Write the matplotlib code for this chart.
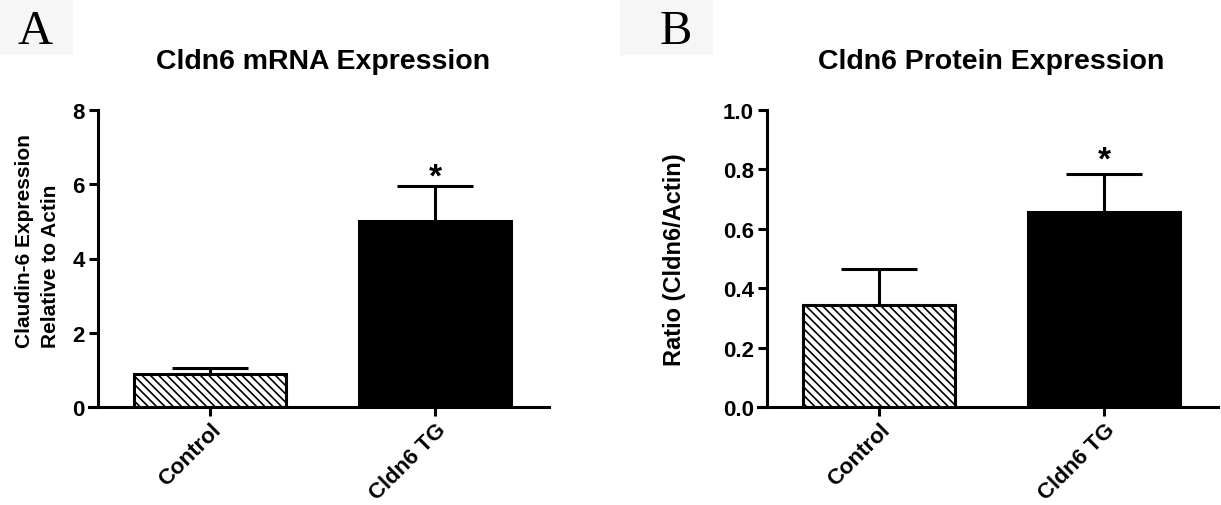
import numpy as np
import matplotlib
matplotlib.use('Agg')
import matplotlib.pyplot as plt
from matplotlib.patches import Rectangle

plt.rcParams['font.family'] = ['Liberation Sans', 'DejaVu Sans']
plt.rcParams['font.weight'] = 'bold'
plt.rcParams['axes.labelweight'] = 'bold'
plt.rcParams['hatch.linewidth'] = 1.2
plt.rcParams['hatch.color'] = 'black'

# data
groups = ['Control', 'Cldn6 TG']
mrna_mean = [0.89, 5.0]
mrna_sem = [0.17, 0.95]
mrna_star = 6.48          # y of the significance star
protein_mean = [0.342, 0.657]
protein_sem = [0.122, 0.128]
protein_star = 0.869

mrna_ticks = [0, 2, 4, 6, 8]
protein_ticks = [0.0, 0.2, 0.4, 0.6, 0.8, 1.0]

LW = 2.2
BAR_W = 0.677


def draw_panel(ax, means, sems, star_y, ticks, fmt, title, ylabel, label_xy, label_size):
    x = np.arange(len(groups))
    means = np.array(means)
    sems = np.array(sems)

    bars = ax.bar(x, means, width=BAR_W, color=['white', 'black'],
                  edgecolor='black', linewidth=LW, zorder=3)
    bars[0].set_hatch('\\\\\\\\')

    # upper error bars only, like GraphPad
    top = means + sems
    ax.vlines(x, means, top, color='black', linewidth=LW, zorder=2)
    ax.hlines(top, x - BAR_W / 4, x + BAR_W / 4, color='black',
              linewidth=LW, zorder=2)

    ax.annotate('*', xy=(1, star_y), xytext=(0, -14), textcoords='offset points',
                ha='center', va='baseline', fontsize=24, fontweight='bold')

    ax.set_xlim(-0.54, 1.507)
    ax.set_ylim(ticks[0], ticks[-1])
    ax.spines['top'].set_visible(False)
    ax.spines['right'].set_visible(False)
    ax.spines['left'].set_position(('data', -0.5))
    ax.spines['left'].set_linewidth(LW)
    ax.spines['bottom'].set_linewidth(LW)

    ax.set_yticks(ticks)
    ax.set_yticklabels([fmt % t for t in ticks])
    ax.set_xticks(x)
    ax.set_xticklabels(groups, rotation=45, ha='right', va='top',
                       rotation_mode='anchor')
    ax.tick_params(axis='y', direction='out', width=LW, length=6.5,
                   labelsize=16, pad=3)
    ax.tick_params(axis='x', direction='out', width=LW, length=6.5,
                   labelsize=16, pad=2)

    ax.set_title(title, fontsize=20.5, fontweight='bold', x=0.508, y=1.165,
                 va='center', pad=0)
    ax.set_ylabel(ylabel, fontsize=label_size, fontweight='bold',
                  multialignment='left', linespacing=1.5)
    ax.yaxis.set_label_coords(*label_xy)


fig = plt.figure(figsize=(12.21, 5.06), dpi=100)
W, H = 1221.0, 506.0

ax1 = fig.add_axes([89 / W, 1 - 408 / H, 460 / W, 297 / H])
ax2 = fig.add_axes([758 / W, 1 - 408 / H, 460 / W, 297 / H])

draw_panel(ax1, mrna_mean, mrna_sem, mrna_star, mrna_ticks, '%d',
           'Cldn6 mRNA Expression',
           'Claudin-6 Expression\nRelative to Actin', (-0.063, 0.562), 15)
draw_panel(ax2, protein_mean, protein_sem, protein_star, protein_ticks, '%.1f',
           'Cldn6 Protein Expression',
           'Ratio (Cldn6/Actin)', (-0.157, 0.5), 17)

# panel letters on their faint grey boxes
for x0, w, lx, letter in [(0, 72, 18, 'A'), (620, 92, 660, 'B')]:
    fig.patches.append(Rectangle((x0 / W, 1 - 55 / H), w / W, 55 / H,
                                 transform=fig.transFigure, color='#f6f6f6', zorder=0))
    fig.text(lx / W, 1 - 44 / H, letter, family='Liberation Serif',
             fontsize=35, fontweight='normal', va='baseline')

fig.savefig('out.png', dpi=100)
